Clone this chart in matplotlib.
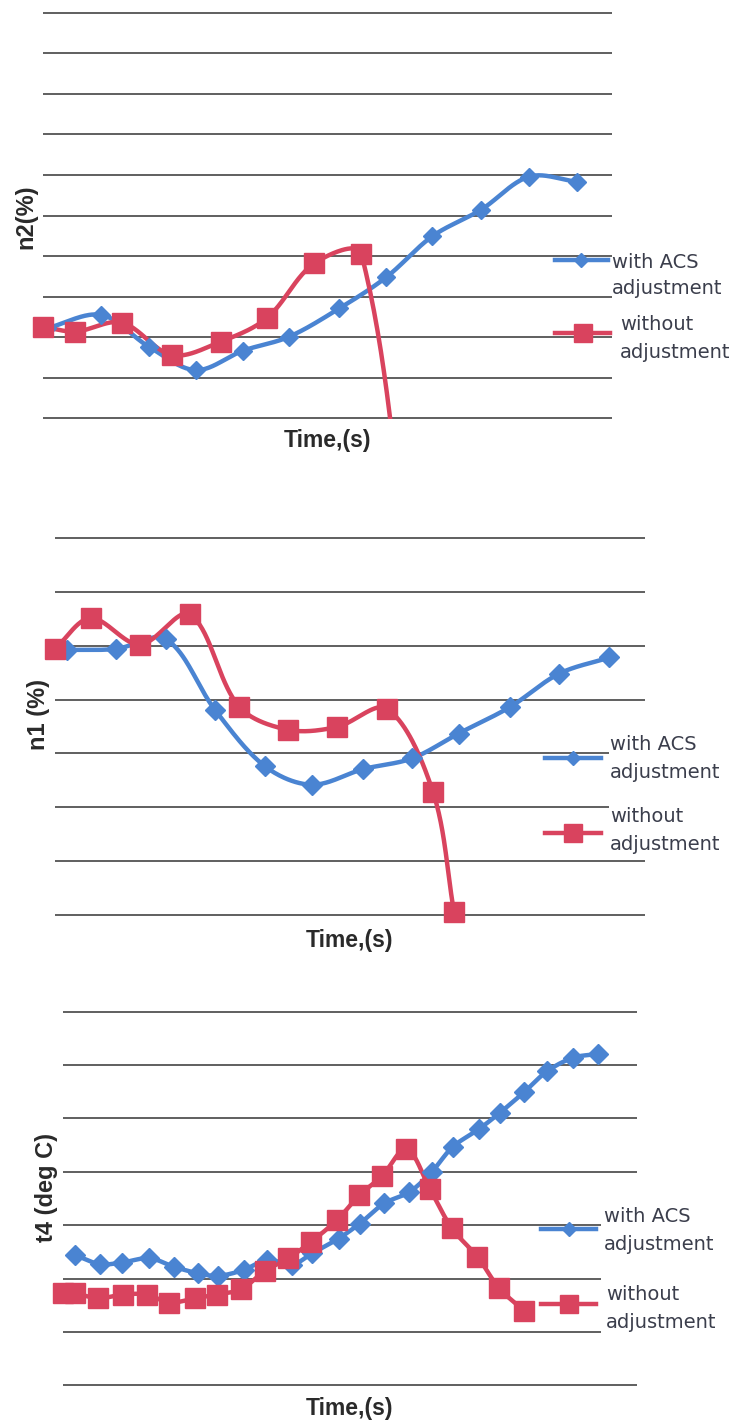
import numpy as np
import matplotlib.pyplot as plt
from matplotlib.lines import Line2D
from matplotlib.patches import Rectangle

W, H = 741, 1425
BLUE = '#4a84d2'
RED = '#d9435e'
GRID = '#343434'
TXT = '#3b3e4c'

# n2 panel
n2_t_acs = [0.08, 1.21, 2.2, 3.18, 4.17, 5.12, 6.17, 7.15, 8.11, 9.12, 10.13, 11.13]
n2_acs = [2.22, 2.55, 1.77, 1.19, 1.67, 2.01, 2.71, 3.48, 4.49, 5.14, 5.96, 5.83]
n2_t_noadj = [0, 0.67, 1.64, 2.69, 3.7, 4.66, 5.65, 6.63, 7.8]
n2_noadj = [2.26, 2.14, 2.36, 1.56, 1.89, 2.47, 3.82, 4.05, -6.0]

# n1 panel
n1_t_acs = [0.24, 1.24, 2.25, 3.25, 4.26, 5.2, 6.25, 7.24, 8.18, 9.22, 10.22, 11.24]
n1_acs = [4.92, 4.94, 5.12, 3.80, 2.76, 2.42, 2.71, 2.91, 3.37, 3.86, 4.48, 4.78]
n1_t_noadj = [0, 0.72, 1.72, 2.73, 3.73, 4.72, 5.71, 6.73, 7.66, 8.09]
n1_noadj = [4.94, 5.51, 5.02, 5.58, 3.87, 3.44, 3.49, 3.83, 2.29, 0.05]

# t4 panel
t4_t_acs = [0.5, 1.55, 2.48, 3.63, 4.66, 5.65, 6.5, 7.58, 8.57, 9.62, 10.45, 11.57,
            12.46, 13.49, 14.54, 15.48, 16.37, 17.46, 18.35, 19.35, 20.34, 21.43, 22.48]
t4_acs = [2.44, 2.27, 2.30, 2.38, 2.22, 2.10, 2.05, 2.16, 2.35, 2.26, 2.47, 2.75,
          3.03, 3.41, 3.62, 4.00, 4.47, 4.80, 5.11, 5.49, 5.89, 6.14, 6.21]
t4_t_noadj = [0, 0.5, 1.49, 2.52, 3.51, 4.46, 5.56, 6.45, 7.48, 8.47, 9.46, 10.42,
              11.51, 12.44, 13.39, 14.42, 15.42, 16.33, 17.4, 18.31, 19.35]
t4_noadj = [1.72, 1.72, 1.63, 1.70, 1.70, 1.55, 1.63, 1.70, 1.80, 2.14, 2.38, 2.69,
            3.10, 3.56, 3.92, 4.43, 3.67, 2.94, 2.41, 1.82, 1.40]

legend_labels = [('with ACS', 'adjustment'), ('without', 'adjustment')]


def smooth(x, y, sx, sy, n=40):
    # smoothed line, bezier control points weighted by on-screen segment length
    p = np.column_stack([x, y]).astype(float)
    k = np.array([sx, sy])
    p = np.vstack([p[0], p, p[-1]])
    out = []
    for i in range(1, len(p) - 2):
        p0, p1, p2, p3 = p[i - 1], p[i], p[i + 1], p[i + 2]
        d0 = np.hypot(*((p1 - p0) * k))
        d1 = np.hypot(*((p2 - p1) * k))
        d2 = np.hypot(*((p3 - p2) * k))
        w1 = d1 / (d0 + d1) if d0 + d1 > 0 else 0.5
        w2 = d1 / (d1 + d2) if d1 + d2 > 0 else 0.5
        c1 = p1 + (p2 - p0) * w1 / 3
        c2 = p2 - (p3 - p1) * w2 / 3
        s = np.linspace(0, 1, n)[:, None]
        b = (1 - s) ** 3 * p1 + 3 * (1 - s) ** 2 * s * c1 + 3 * (1 - s) * s ** 2 * c2 + s ** 3 * p2
        out.append(b)
    b = np.vstack(out)
    return b[:, 0], b[:, 1]


def fig_xy(px, py):
    return px / W, 1 - py / H


fig = plt.figure(figsize=(W / 100, H / 100), dpi=100)
FONT = ['Liberation Sans', 'DejaVu Sans']


def panel(box, xmax, ymax, series, ylabel, ylab_pos, time_pos, leg, cover=None):
    x0, y0, x1, y1 = box
    ax = fig.add_axes([x0 / W, 1 - y1 / H, (x1 - x0) / W, (y1 - y0) / H])
    ax.set_xlim(0, xmax)
    ax.set_ylim(-0.015, ymax + 0.015)
    ax.set_yticks(range(0, ymax + 1))
    ax.set_xticks([])
    ax.tick_params(length=0, labelleft=False)
    for s in ax.spines.values():
        s.set_visible(False)
    ax.yaxis.grid(True, color=GRID, lw=1.1)
    ax.set_axisbelow(True)
    kx = (x1 - x0) / xmax
    ky = (y1 - y0) / ymax

    for t, v, color, mk, ms in series:
        t = np.asarray(t)
        v = np.asarray(v)
        sx, sy = smooth(t, v, kx, ky)
        ax.plot(sx, sy, color=color, lw=3.2, solid_capstyle='round', zorder=3)
        vis = v >= 0
        ax.plot(t[vis], v[vis], ls='none', marker=mk, ms=ms, color=color,
                mec=color, clip_on=False, zorder=4)

    if cover is not None:
        cx0, cy0, cx1, cy1 = cover
        fx, fy = fig_xy(cx0, cy1)
        fig.add_artist(Rectangle((fx, fy), (cx1 - cx0) / W, (cy1 - cy0) / H,
                                 transform=fig.transFigure, facecolor='white',
                                 edgecolor='none', zorder=5))

    fx, fy = fig_xy(*ylab_pos)
    fig.text(fx, fy, ylabel, rotation=90, ha='center', va='center', fontsize=17,
             fontweight='bold', color='#2a2a2a', family=FONT)
    fx, fy = fig_xy(*time_pos)
    fig.text(fx, fy, 'Time,(s)', ha='center', va='center', fontsize=16.5,
             fontweight='bold', color='#2a2a2a', family=FONT)

    # hand-placed legend entries
    for (lx0, lx1, ly, tx, ty1, ty2), (color, mk, ms), (l1, l2) in zip(
            leg, [(BLUE, 'D', 7.5), (RED, 's', 13)], legend_labels):
        a, b = fig_xy(lx0, ly)
        c, _ = fig_xy(lx1, ly)
        fig.add_artist(Line2D([a, c], [b, b], transform=fig.transFigure, color=color,
                              lw=3.2, zorder=6))
        fig.add_artist(Line2D([(a + c) / 2], [b], transform=fig.transFigure, color=color,
                              marker=mk, ms=ms, zorder=7))
        for txt, ty in ((l1, ty1), (l2, ty2)):
            fx, fy = fig_xy(tx, ty)
            fig.text(fx, fy, txt, ha='left', va='center', fontsize=14, color=TXT,
                     family='DejaVu Sans', zorder=8)
    return ax


panel((43, 12, 612, 419), 11.85, 10,
      [(n2_t_acs, n2_acs, BLUE, 'D', 9.5), (n2_t_noadj, n2_noadj, RED, 's', 14.5)],
      'n2(%)', (26, 217), (328, 440),
      [(555, 608, 260, 612, 262, 288), (555, 610, 333, 620, 324, 352)])

panel((55, 537, 645, 916), 11.96, 7,
      [(n1_t_acs, n1_acs, BLUE, 'D', 10), (n1_t_noadj, n1_noadj, RED, 's', 14.5)],
      'n1 (%)', (38, 715), (349, 940),
      [(545, 601, 758, 610, 745, 773), (545, 601, 833, 610, 817, 845)],
      cover=(609, 735, 741, 860))

panel((63, 1011, 637, 1386), 24.1, 7,
      [(t4_t_acs, t4_acs, BLUE, 'D', 10.5), (t4_t_noadj, t4_noadj, RED, 's', 15)],
      't4 (deg C)', (47, 1188), (349, 1408),
      [(541, 596, 1229, 604, 1217, 1245), (541, 596, 1304, 606, 1295, 1323)],
      cover=(601, 1205, 741, 1340))

fig.savefig('out.png', dpi=100, facecolor='white')
